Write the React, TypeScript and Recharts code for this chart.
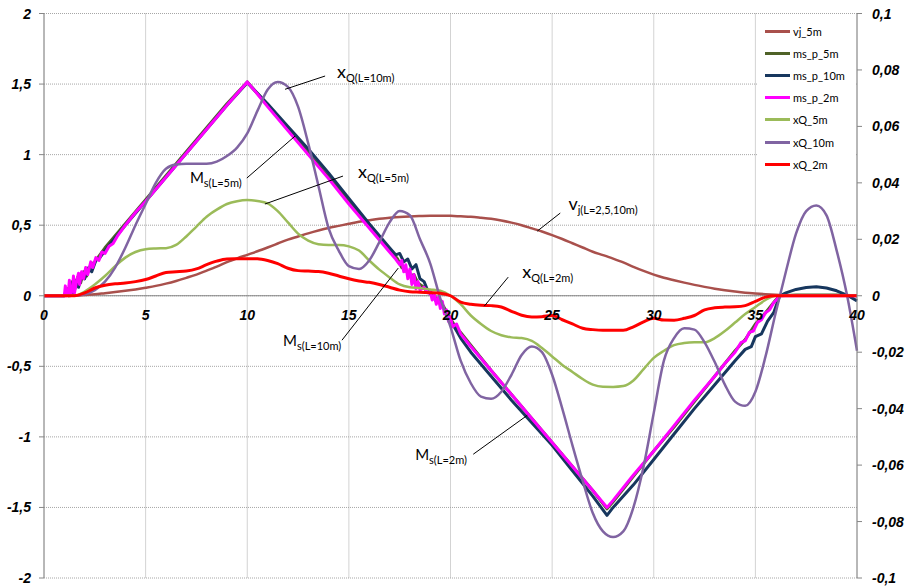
import {
  LineChart,
  Line,
  XAxis,
  YAxis,
  CartesianGrid,
  ReferenceLine,
  ReferenceDot,
  Legend,
} from 'recharts';

// x positions of the smooth series (every 0.5 m)
const X_GRID = [
  0, 0.5, 1, 1.5, 2, 2.5, 3, 3.5, 4, 4.5, 5, 5.5, 6, 6.5, 7, 7.5, 8, 8.5, 9, 9.5,
  10, 10.5, 11, 11.5, 12, 12.5, 13, 13.5, 14, 14.5, 15, 15.5, 16, 16.5, 17, 17.5, 18, 18.5, 19, 19.5,
  20, 20.5, 21, 21.5, 22, 22.5, 23, 23.5, 24, 24.5, 25, 25.5, 26, 26.5, 27, 27.5, 28, 28.5, 29, 29.5,
  30, 30.5, 31, 31.5, 32, 32.5, 33, 33.5, 34, 34.5, 35, 35.5, 36, 36.5, 37, 37.5, 38, 38.5, 39, 39.5, 40,
];

// left axis
const VJ_5M = [
  0, 0, 0, 0, 0.005, 0.01, 0.018, 0.026, 0.035, 0.045, 0.057, 0.07, 0.086, 0.105, 0.127, 0.15, 0.178, 0.207, 0.238, 0.265,
  0.29, 0.315, 0.342, 0.37, 0.398, 0.42, 0.442, 0.462, 0.48, 0.495, 0.51, 0.524, 0.535, 0.545, 0.552, 0.558, 0.562, 0.565, 0.567, 0.567,
  0.566, 0.563, 0.56, 0.553, 0.545, 0.533, 0.518, 0.5, 0.478, 0.455, 0.43, 0.402, 0.372, 0.342, 0.312, 0.288, 0.263, 0.236, 0.205, 0.176,
  0.15, 0.128, 0.11, 0.093, 0.077, 0.063, 0.05, 0.039, 0.03, 0.022, 0.016, 0.011, 0.007, 0.004, 0.002, 0.001, 0, 0, 0, 0, 0,
];

// right axis
const XQ_5M = [
  0, 0, 0, 0, 0.0015, 0.004, 0.007, 0.0105, 0.0135, 0.0155, 0.0165, 0.01675, 0.01685, 0.018, 0.021, 0.0245, 0.028, 0.0305, 0.0325, 0.0335,
  0.0339, 0.0336, 0.03275, 0.03, 0.026, 0.022, 0.0195, 0.01825, 0.018, 0.018, 0.0175, 0.016, 0.0125, 0.00925, 0.0065, 0.004, 0.003, 0.0027, 0.00225, 0.00175,
  0, -0.003, -0.007, -0.01, -0.0125, -0.014, -0.01475, -0.015, -0.016, -0.0185, -0.0215, -0.0245, -0.027, -0.0295, -0.0315, -0.03225, -0.0323, -0.032, -0.03, -0.026,
  -0.022, -0.0195, -0.0175, -0.01675, -0.0165, -0.0165, -0.015, -0.0125, -0.0095, -0.0065, -0.004, -0.0015, 0, 0, 0, 0, 0, 0, 0, 0, 0,
];

const XQ_10M = [
  0, 0, 0, 0, 0.0005, 0.002, 0.005, 0.01, 0.017, 0.025, 0.0325, 0.04, 0.045, 0.0465, 0.04675, 0.04675, 0.04675, 0.0475, 0.0495, 0.0525,
  0.0575, 0.0655, 0.073, 0.07575, 0.074, 0.067, 0.054, 0.039, 0.024, 0.016, 0.0105, 0.0095, 0.0125, 0.019, 0.026, 0.03, 0.0285, 0.02, 0.0115, -0.001,
  -0.011, -0.023, -0.031, -0.03575, -0.0365, -0.034, -0.028, -0.021, -0.018, -0.02, -0.028, -0.04, -0.053, -0.0655, -0.077, -0.0835, -0.0855, -0.0835, -0.075, -0.0605,
  -0.0415, -0.023, -0.015, -0.0115, -0.012, -0.0165, -0.0235, -0.0315, -0.0375, -0.039, -0.034, -0.0215, -0.006, 0.0085, 0.022, 0.03, 0.032, 0.0285, 0.016, 0.0005, -0.0195,
];

const XQ_2M = [
  0, 0, 0, 0, 0.001, 0.00275, 0.00375, 0.00425, 0.0045, 0.005, 0.00575, 0.007, 0.00825, 0.0085, 0.00875, 0.0095, 0.011, 0.01225, 0.013, 0.0131,
  0.01315, 0.0131, 0.0125, 0.0114, 0.00975, 0.0089, 0.00875, 0.0086, 0.008, 0.007, 0.006, 0.00525, 0.00475, 0.004, 0.003, 0.002, 0.0014, 0.00125, 0.0011, 0.0009,
  0, -0.00225, -0.003, -0.00335, -0.0035, -0.004, -0.0055, -0.0069, -0.0075, -0.0074, -0.007, -0.0085, -0.01, -0.0115, -0.012, -0.01225, -0.01225, -0.01225, -0.011, -0.00925,
  -0.008, -0.0086, -0.00865, -0.008, -0.007, -0.005, -0.00425, -0.004, -0.0039, -0.0035, -0.002, -0.0005, 0, 0, 0, 0, 0, 0, 0, 0, 0,
];

// left axis, [x, value] (noisy sections sampled more densely)
const MS_P_5M = [
  [0, 0], [1, 0], [1.15, 0.05], [1.25, 0], [1.4, 0.1], [1.5, 0.04], [1.65, 0.13], [1.8, 0.09], [1.95, 0.17], [2.1, 0.14],
  [2.3, 0.22], [2.5, 0.24], [2.75, 0.29], [3, 0.34], [4, 0.51], [5, 0.68], [6, 0.85], [7, 1.02], [8, 1.19], [9, 1.36],
  [10, 1.515], [11, 1.35], [12, 1.18], [13, 1.01], [14, 0.84], [15, 0.67], [16, 0.5], [17, 0.33], [17.4, 0.26], [17.6, 0.2],
  [17.8, 0.18], [18, 0.14], [18.2, 0.15], [18.4, 0.09], [18.6, 0.07], [18.8, 0.04], [19, 0.03], [19.3, -0.02], [19.6, -0.06], [19.9, -0.14],
  [20.2, -0.21], [20.5, -0.26], [21, -0.35], [22, -0.53], [23, -0.7], [24, -0.87], [25, -1.04], [26, -1.21], [27, -1.38], [27.7, -1.51],
  [28, -1.46], [29, -1.28], [30, -1.1], [31, -0.93], [32, -0.75], [33, -0.57], [34, -0.39], [34.5, -0.31], [35, -0.2], [35.5, -0.12],
  [36, -0.03], [36.2, 0], [37, 0.005], [38, 0.005], [39, 0.005], [40, 0],
];

const MS_P_10M = [
  [0, 0], [1, 0], [1.1, 0.04], [1.2, 0], [1.35, 0.09], [1.45, 0.02], [1.6, 0.11], [1.7, 0.06], [1.85, 0.15], [2, 0.12],
  [2.2, 0.2], [2.35, 0.17], [2.55, 0.25], [2.75, 0.27], [3, 0.32], [3.5, 0.41], [4, 0.5], [5, 0.67], [6, 0.84], [7, 1.01],
  [8, 1.18], [9, 1.35], [10, 1.51], [11, 1.36], [12, 1.2], [13, 1.04], [14, 0.87], [15, 0.69], [16, 0.51], [17, 0.34],
  [17.3, 0.29], [17.5, 0.3], [17.7, 0.24], [17.9, 0.26], [18.1, 0.19], [18.3, 0.22], [18.5, 0.12], [18.7, 0.1], [18.9, 0.03], [19.1, 0],
  [19.3, -0.04], [19.5, -0.05], [19.7, -0.1], [19.9, -0.16], [20.1, -0.2], [20.5, -0.3], [21, -0.4], [22, -0.57], [23, -0.74], [24, -0.9],
  [25, -1.06], [26, -1.24], [27, -1.42], [27.7, -1.556], [28, -1.5], [29, -1.34], [30, -1.16], [31, -0.98], [32, -0.8], [33, -0.63],
  [34, -0.46], [34.5, -0.38], [34.8, -0.36], [35, -0.29], [35.3, -0.27], [35.6, -0.18], [35.9, -0.12], [36.2, 0], [36.5, 0.02], [37, 0.045],
  [37.5, 0.058], [38, 0.063], [38.5, 0.055], [39, 0.035], [39.5, 0.005], [40, -0.036],
];

const MS_P_2M = [
  [0, 0], [0.5, 0], [1, 0], [1.05, 0.07], [1.1, 0], [1.2, 0.03], [1.25, 0.11], [1.3, 0], [1.4, 0.05], [1.45, 0.14],
  [1.5, 0.02], [1.6, 0.1], [1.7, 0.16], [1.75, 0.08], [1.85, 0.17], [1.95, 0.12], [2.05, 0.2], [2.15, 0.15], [2.3, 0.24], [2.4, 0.2],
  [2.55, 0.27], [2.7, 0.25], [2.85, 0.31], [3, 0.3], [3.2, 0.35], [3.4, 0.37], [3.6, 0.42], [4, 0.5], [4.5, 0.59], [5, 0.67],
  [6, 0.84], [7, 1.01], [8, 1.18], [9, 1.35], [10, 1.515], [10.5, 1.43], [11, 1.34], [12, 1.17], [13, 1.0], [14, 0.83],
  [15, 0.65], [16, 0.48], [16.5, 0.395], [17, 0.31], [17.3, 0.26], [17.5, 0.22], [17.6, 0.25], [17.7, 0.17], [17.8, 0.22], [17.9, 0.12],
  [18, 0.19], [18.1, 0.08], [18.2, 0.15], [18.3, 0.05], [18.4, 0.1], [18.5, 0.04], [18.7, 0.06], [18.9, 0.02], [19, 0.03], [19.1, -0.03],
  [19.2, 0.01], [19.3, -0.06], [19.4, -0.01], [19.5, -0.09], [19.6, -0.04], [19.7, -0.13], [19.8, -0.1], [19.9, -0.18], [20, -0.15], [20.1, -0.22],
  [20.3, -0.2], [20.5, -0.27], [21, -0.36], [22, -0.53], [23, -0.7], [24, -0.87], [25, -1.04], [26, -1.21], [27, -1.38], [27.7, -1.5],
  [28, -1.45], [29, -1.27], [30, -1.1], [31, -0.92], [32, -0.74], [33, -0.57], [33.5, -0.48], [34, -0.4], [34.3, -0.33], [34.5, -0.32],
  [34.7, -0.26], [34.9, -0.25], [35.1, -0.19], [35.3, -0.17], [35.5, -0.12], [35.7, -0.1], [35.9, -0.05], [36.1, -0.02], [36.2, 0], [37, 0],
  [38, 0], [39, 0], [40, 0],
];

const X_TICKS = [0, 5, 10, 15, 20, 25, 30, 35, 40];
const LEFT_TICKS = [-2, -1.5, -1, -0.5, 0, 0.5, 1, 1.5, 2];
const RIGHT_TICKS = [-0.1, -0.08, -0.06, -0.04, -0.02, 0, 0.02, 0.04, 0.06, 0.08, 0.1];

// callouts, in left-axis units
const NOTES = [
  { main: 'x', sub: 'Q(L=10m)', at: [14.42, 1.543], from: [13.83, 1.557], to: [11.86, 1.463] },
  { main: 'M', sub: 's(L=5m)', at: [7.18, 0.798], from: [9.98, 0.834], to: [12.35, 1.131] },
  { main: 'x', sub: 'Q(L=5m)', at: [15.45, 0.834], from: [14.71, 0.848], to: [10.87, 0.65] },
  { main: 'v', sub: 'j(L=2,5,10m)', at: [25.8, 0.607], from: [25.4, 0.586], to: [24.27, 0.458] },
  { main: 'x', sub: 'Q(L=2m)', at: [23.53, 0.125], from: [22.84, 0.132], to: [21.66, -0.074] },
  { main: 'M', sub: 's(L=10m)', at: [11.76, -0.357], from: [14.66, -0.315], to: [17.43, 0.196] },
  { main: 'M', sub: 's(L=2m)', at: [18.26, -1.166], from: [21.12, -1.123], to: [23.78, -0.847] },
];

const onGrid = (vals: number[]) => X_GRID.map((x, i) => ({ x, y: vals[i] }));
const fromPairs = (p: number[][]) => p.map(([x, y]) => ({ x, y }));

const SERIES = [
  { name: 'vj_5m', color: '#A9504C', width: 2.5, axis: 'left', data: onGrid(VJ_5M), curve: 'monotone' },
  { name: 'ms_p_5m', color: '#4F6228', width: 3, axis: 'left', data: fromPairs(MS_P_5M), curve: 'linear' },
  { name: 'ms_p_10m', color: '#17375E', width: 3, axis: 'left', data: fromPairs(MS_P_10M), curve: 'linear' },
  { name: 'ms_p_2m', color: '#FF00FF', width: 3, axis: 'left', data: fromPairs(MS_P_2M), curve: 'linear' },
  { name: 'xQ_5m', color: '#9BBB59', width: 2.5, axis: 'right', data: onGrid(XQ_5M), curve: 'monotone' },
  { name: 'xQ_10m', color: '#8064A2', width: 2.5, axis: 'right', data: onGrid(XQ_10M), curve: 'monotone' },
  { name: 'xQ_2m', color: '#FF0000', width: 3, axis: 'right', data: onGrid(XQ_2M), curve: 'monotone' },
];

const FONT = 'Lato, "Noto Sans", sans-serif';
const TICK_FONT = '"Liberation Sans", Arial, sans-serif';
const AXIS_GREY = '#868686';

const fmt = (v: number) => String(Number(v.toFixed(2))).replace('.', ',');

const TickText = ({ x, y, payload, anchor, dy }: any) => (
  <text x={x} y={y} dy={dy} textAnchor={anchor} fontFamily={TICK_FONT} fontSize={14}
    fontWeight={700} fontStyle="italic" fill="#000">
    {fmt(payload.value)}
  </text>
);

const LegendBox = () => (
  <div style={{ background: '#fff', paddingLeft: 7, fontFamily: FONT, fontSize: 11, color: '#000' }}>
    {SERIES.map((s) => (
      <div key={s.name} style={{ display: 'flex', alignItems: 'center', height: 22.2 }}>
        <span style={{ width: 25, height: 3, background: s.color, marginRight: 3, display: 'inline-block' }} />
        <span>{s.name}</span>
      </div>
    ))}
  </div>
);

const Note = ({ cx, cy, main, sub }: any) => (
  <text x={cx} y={cy} fontFamily={FONT} fill="#000">
    <tspan fontSize={main === 'M' ? 15 : 18}>{main}</tspan>
    <tspan fontSize={11} dy={4}>{sub}</tspan>
  </text>
);

export default function App() {
  return (
    <div style={{ position: 'absolute', left: 0, top: 0, width: 905, height: 587, background: '#fff' }}>
      <LineChart width={905} height={587} margin={{ top: 13.5, right: 0, bottom: 0, left: 0 }}>
        <CartesianGrid yAxisId="left" stroke="#A6A6A6" strokeDasharray="1 1" />
        <XAxis
          type="number"
          dataKey="x"
          domain={[0, 40]}
          ticks={X_TICKS}
          interval={0}
          height={9}
          axisLine={false}
          tickLine={false}
          tick={(p: any) => <TickText {...p} y={320} anchor="middle" dy={0} />}
        />
        <YAxis
          yAxisId="left"
          domain={[-2, 2]}
          ticks={LEFT_TICKS}
          interval={0}
          width={44}
          tickSize={5}
          tickMargin={8}
          axisLine={{ stroke: AXIS_GREY }}
          tickLine={{ stroke: AXIS_GREY }}
          tick={(p: any) => <TickText {...p} anchor="end" dy="0.36em" />}
        />
        <YAxis
          yAxisId="right"
          orientation="right"
          domain={[-0.1, 0.1]}
          ticks={RIGHT_TICKS}
          interval={0}
          width={48}
          tickSize={5}
          tickMargin={10}
          axisLine={{ stroke: AXIS_GREY }}
          tickLine={{ stroke: AXIS_GREY }}
          tick={(p: any) => <TickText {...p} anchor="start" dy="0.36em" />}
        />
        <ReferenceLine yAxisId="left" y={0} stroke={AXIS_GREY} strokeWidth={1} />
        {SERIES.map((s) => (
          <Line
            key={s.name}
            name={s.name}
            yAxisId={s.axis}
            data={s.data}
            dataKey="y"
            type={s.curve as any}
            stroke={s.color}
            strokeWidth={s.width}
            strokeLinejoin="round"
            dot={false}
            activeDot={false}
            isAnimationActive={false}
          />
        ))}
        {NOTES.map((n) => (
          <ReferenceLine
            key={'l' + n.sub}
            yAxisId="left"
            segment={[{ x: n.from[0], y: n.from[1] }, { x: n.to[0], y: n.to[1] }]}
            stroke="#000"
            strokeWidth={1}
          />
        ))}
        {NOTES.map((n) => (
          <ReferenceDot
            key={'t' + n.sub}
            yAxisId="left"
            x={n.at[0]}
            y={n.at[1]}
            r={0}
            shape={(p: any) => <Note cx={p.cx} cy={p.cy} main={n.main} sub={n.sub} />}
          />
        ))}
        <Legend
          layout="vertical"
          align="center"
          verticalAlign="middle"
          content={<LegendBox />}
          wrapperStyle={{ left: 758, top: 20, width: 98, height: 156 }}
        />
      </LineChart>
    </div>
  );
}
